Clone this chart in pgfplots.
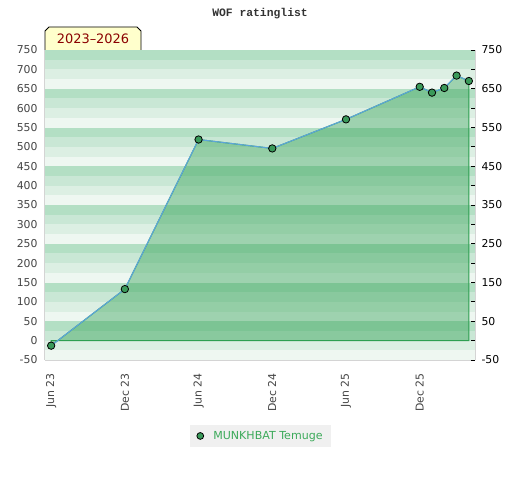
\documentclass[border=0pt]{standalone}
\usepackage{fontspec}
\setmainfont{DejaVu Sans}
\newfontfamily\monofont{Liberation Mono}
\usepackage{pgfplots}
\pgfplotsset{compat=1.18}
\definecolor{bandA}{HTML}{B3DFC4}
\definecolor{bandB}{HTML}{C9E7D5}
\definecolor{bandC}{HTML}{DCEFE3}
\definecolor{bandD}{HTML}{EEF7F1}
\definecolor{areafill}{RGB}{46,159,81}
\definecolor{lineblue}{HTML}{5DA5DA}
\definecolor{markgreen}{HTML}{3A9A5A}
\definecolor{legendtext}{HTML}{3CAA5A}
\definecolor{tickgray}{HTML}{444444}
\definecolor{badgefill}{HTML}{FFFFCC}
\definecolor{badgetext}{HTML}{8B0000}
\definecolor{axisgray}{HTML}{D4D4D4}
\begin{document}
\begin{tikzpicture}
\path[use as bounding box] (-45bp,-120bp) rectangle (475bp,360bp);
\begin{axis}[
  at={(0,0)}, anchor=south west,
  scale only axis, width=430bp, height=310bp,
  xmin=-0.5, xmax=34.5, ymin=-50, ymax=750,
  axis x line*=bottom, axis y line*=left,
  axis line style={draw=axisgray, line width=1bp},
  xtick={0,6,12,18,24,30},
  xticklabels={Jun 23,Dec 23,Jun 24,Dec 24,Jun 25,Dec 25},
  xticklabel style={rotate=90, anchor=east, font=\fontsize{10.9}{12}\selectfont, text=tickgray},
  xticklabel shift=10bp,
  ytick={-50,0,50,100,150,200,250,300,350,400,450,500,550,600,650,700,750},
  yticklabel style={font=\fontsize{10.9}{12}\selectfont, text=tickgray},
  yticklabel shift=4bp,
  /pgf/number format/assume math mode=true,
  major tick length=0pt, tick style={draw=none},
  clip=false,
  legend style={at={(0.501,-0.245)}, anchor=center, fill=black!6, draw=none,
    font=\fontsize{11.1}{12}\selectfont, text=legendtext, inner xsep=6bp, inner ysep=4bp},
  legend image code/.code={\path[draw=none, fill=none] (-4bp,0) -- (11bp,0);\draw[draw=none, mark=*, mark size=3.4bp, mark options={fill=markgreen, draw=black, line width=0.8bp}] plot coordinates {(0bp,0bp)};},
]
\fill[bandD] (axis cs:-0.5,-50) rectangle (axis cs:34.5,750);
\pgfplotsinvokeforeach{-25,75,175,275,375,475,575,675}{
  \fill[bandC] (axis cs:-0.5,#1) rectangle ++(axis direction cs:35,25);
}
\pgfplotsinvokeforeach{0,100,200,300,400,500,600,700}{
  \fill[bandB] (axis cs:-0.5,#1) rectangle ++(axis direction cs:35,25);
}
\pgfplotsinvokeforeach{25,125,225,325,425,525,625,725}{
  \fill[bandA] (axis cs:-0.5,#1) rectangle ++(axis direction cs:35,25);
}
\addplot[draw=areafill, line width=1bp, fill=areafill, fill opacity=0.41, forget plot]
  coordinates {(0,-13) (6,133) (12,519) (18,496) (24,571) (30,655) (31,640) (32,652) (33,684) (34,670)} \closedcycle;
\addplot[color=lineblue, line width=1.1bp, mark=*, mark size=3.7bp,
  mark options={fill=markgreen, draw=black, line width=0.8bp}]
  coordinates {(0,-13) (6,133) (12,519) (18,496) (24,571) (30,655) (31,640) (32,652) (33,684) (34,670)};
\addlegendentry{MUNKHBAT Temuge}
\end{axis}
\begin{axis}[
  at={(0,0)}, anchor=south west,
  scale only axis, width=430bp, height=310bp,
  xmin=-0.5, xmax=34.5, ymin=-50, ymax=750,
  axis x line=none, axis y line*=right,
  y axis line style={draw=axisgray, line width=1bp},
  ytick={-50,50,150,250,350,450,550,650,750},
  minor ytick={0,100,200,300,400,500,600,700},
  tick align=inside, major tick length=4bp, minor tick length=4bp,
  every tick/.style={black, line width=0.8bp},
  every minor tick/.style={black, line width=0.8bp},
  yticklabel style={font=\fontsize{10.9}{12}\selectfont, text=black},
  yticklabel shift=3bp,
  /pgf/number format/assume math mode=true,
]
\end{axis}
\node[text=black!80, font=\monofont\bfseries\fontsize{11.4}{12}\selectfont] at (215bp,346bp) {WOF ratinglist};
\fill[badgefill] (0,310bp) -- (0,329bp) -- (4bp,333bp) -- (92bp,333bp) -- (96bp,329bp) -- (96bp,310bp) -- cycle;
\draw[black, line width=0.8bp] (0,310bp) -- (0,329bp) -- (4bp,333bp) -- (92bp,333bp) -- (96bp,329bp) -- (96bp,310bp);
\node[text=badgetext, font=\fontsize{13}{14}\selectfont] at (48bp,321.5bp) {2023–2026};
\end{tikzpicture}
\end{document}
